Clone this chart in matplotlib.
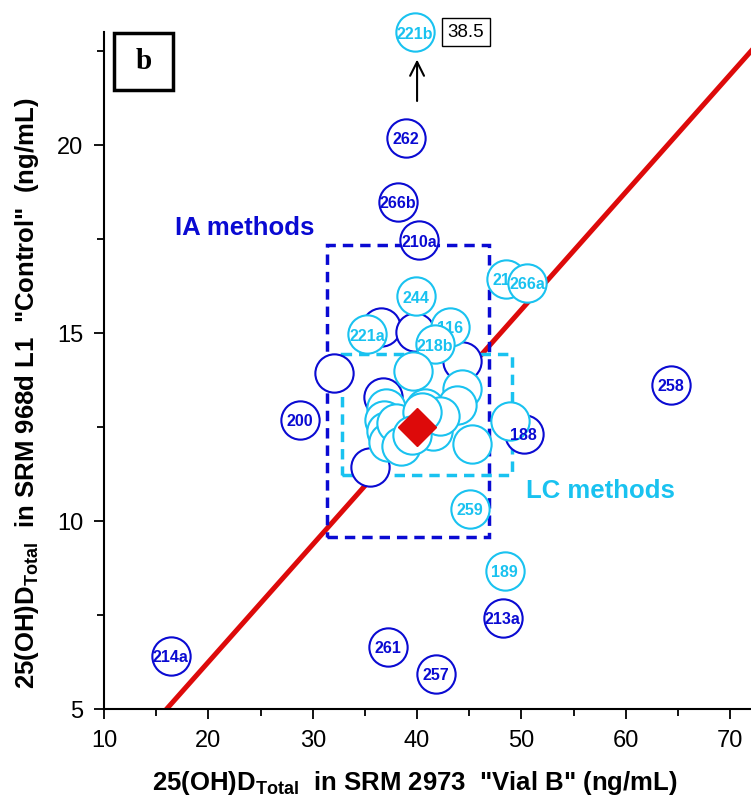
import matplotlib
matplotlib.use('Agg')
import matplotlib.pyplot as plt
from matplotlib.patches import Rectangle

# IA methods (dark blue circles)
ia_labels = ['262', '266b', '210a', '200', '188', '258', '213a', '261', '257', '214a',
             '', '', '', '', '', '']
ia_x = [38.95, 38.2, 40.2, 28.8, 50.2, 64.3, 48.2, 37.2, 41.8, 16.4,
        36.5, 39.8, 44.3, 32.05, 36.7, 35.5]
ia_y = [20.19, 18.5, 17.47, 12.69, 12.32, 13.62, 7.42, 6.66, 5.93, 6.41,
        15.16, 15.03, 14.25, 13.94, 13.3, 11.44]

# LC methods (light blue circles)
lc_labels = ['221b', '244', '212', '266a', '221a', '116', '218b', '259', '189',
             '', '', '', '', '', '', '', '', '', '', '', '', '', '', '', '']
lc_x = [39.8, 39.9, 48.5, 50.55, 35.2, 43.2, 41.7, 45.1, 48.4,
        39.6, 44.3, 43.8, 40.8, 37.0, 36.8, 37.0, 37.2, 38.0, 38.5,
        41.5, 42.2, 40.5, 45.3, 48.9, 39.5]
lc_y = [23.0, 15.98, 16.44, 16.33, 14.97, 15.16, 14.7, 10.32, 8.67,
        14.0, 13.5, 13.1, 13.0, 13.0, 12.7, 12.4, 12.1, 12.6, 12.0,
        12.4, 12.8, 12.9, 12.05, 12.66, 12.3]

offscale_value = '38.5'
consensus_x, consensus_y = 40.0, 12.5

# method boxes: (xmin, xmax, ymin, ymax)
ia_box = (31.4, 46.9, 9.57, 17.34)
lc_box = (32.8, 49.1, 11.22, 14.44)

dark = '#0a0ad2'
light = '#19c2f0'
red = '#dd0a0a'

plt.rcParams['font.family'] = ['Liberation Sans', 'DejaVu Sans']
plt.rcParams['mathtext.fontset'] = 'custom'
plt.rcParams['mathtext.rm'] = 'Liberation Sans:bold'
plt.rcParams['mathtext.bf'] = 'Liberation Sans:bold'

fig = plt.figure(figsize=(7.51, 8.09), dpi=100)
ax = fig.add_axes([0.1385, 0.1236, 0.8615, 0.8364])
ax.set_xlim(10, 72)
ax.set_ylim(5, 23)

# ratio line through the consensus point
lx = [0, 80]
ax.plot(lx, [v * consensus_y / consensus_x for v in lx], color=red, lw=3.6, zorder=2)

ax.add_patch(Rectangle((ia_box[0], ia_box[2]), ia_box[1] - ia_box[0], ia_box[3] - ia_box[2],
                       fill=False, ec=dark, lw=2.5, ls=(0, (3, 2)), zorder=3))
ax.add_patch(Rectangle((lc_box[0], lc_box[2]), lc_box[1] - lc_box[0], lc_box[3] - lc_box[2],
                       fill=False, ec=light, lw=2.5, ls=(0, (3, 2)), zorder=3))

size = 760
z = 4
for lab, x, y in zip(ia_labels, ia_x, ia_y):
    ax.scatter(x, y, s=size, facecolor='white', edgecolor=dark, lw=1.5, zorder=z, clip_on=False)
    if lab:
        ax.text(x, y - 0.05, lab, color=dark, fontsize=11.5, fontweight='bold',
                ha='center', va='center', zorder=200)
    z += 1
for lab, x, y in zip(lc_labels, lc_x, lc_y):
    ax.scatter(x, y, s=size, facecolor='white', edgecolor=light, lw=1.5, zorder=z, clip_on=False)
    z += 1
    if lab:
        ax.text(x, y - 0.05, lab, color=light, fontsize=11.5, fontweight='bold',
                ha='center', va='center', zorder=z, clip_on=False)
    z += 1

ax.plot(consensus_x, consensus_y, marker='D', ms=19, color=red, ls='none', zorder=300)

# off-scale value for 221b
ax.annotate('', xy=(40.0, 22.35), xytext=(40.0, 21.1),
            arrowprops=dict(arrowstyle='->', color='black', lw=1.5, mutation_scale=25))
ax.text(44.7, 23.0, offscale_value, fontsize=13.5, ha='center', va='center', clip_on=False,
        bbox=dict(boxstyle='square,pad=0.3', fc='white', ec='black', lw=1))

ax.text(23.5, 17.8, 'IA methods', color=dark, fontsize=18.5, fontweight='bold',
        ha='center', va='center')
ax.text(57.6, 10.8, 'LC methods', color=light, fontsize=18.5, fontweight='bold',
        ha='center', va='center')

# panel letter
ax.add_patch(Rectangle((0.0155, 0.915), 0.091, 0.0846, transform=ax.transAxes,
                       fill=True, fc='white', ec='black', lw=2.5, clip_on=False, zorder=400))
ax.text(0.0155 + 0.0455, 0.915 + 0.0423, 'b', transform=ax.transAxes, fontsize=21,
        fontweight='bold', family=['Liberation Serif', 'DejaVu Serif'],
        ha='center', va='center', zorder=401)

ax.set_xticks(range(10, 71, 10))
ax.set_xticks(range(15, 71, 10), minor=True)
ax.set_yticks([5, 10, 15, 20])
ax.set_yticks([7.5, 12.5, 17.5, 22.5], minor=True)
ax.tick_params(which='both', direction='out', width=1.3, labelsize=17, pad=8)
ax.tick_params(which='major', length=7)
ax.tick_params(which='minor', length=5)
for s in ['top', 'right']:
    ax.spines[s].set_visible(False)
for s in ['left', 'bottom']:
    ax.spines[s].set_linewidth(1.5)

ax.set_xlabel(r'25(OH)D$_{\mathrm{Total}}$  in SRM 2973  "Vial B" (ng/mL)',
              fontsize=18.5, fontweight='bold')
ax.set_ylabel(r'25(OH)D$_{\mathrm{Total}}$  in SRM 968d L1  "Control"  (ng/mL)',
              fontsize=18.5, fontweight='bold')
ax.xaxis.set_label_coords(0.48, -0.088)
ax.yaxis.set_label_coords(-0.098, 0.466)

fig.savefig('out.png', dpi=100)
